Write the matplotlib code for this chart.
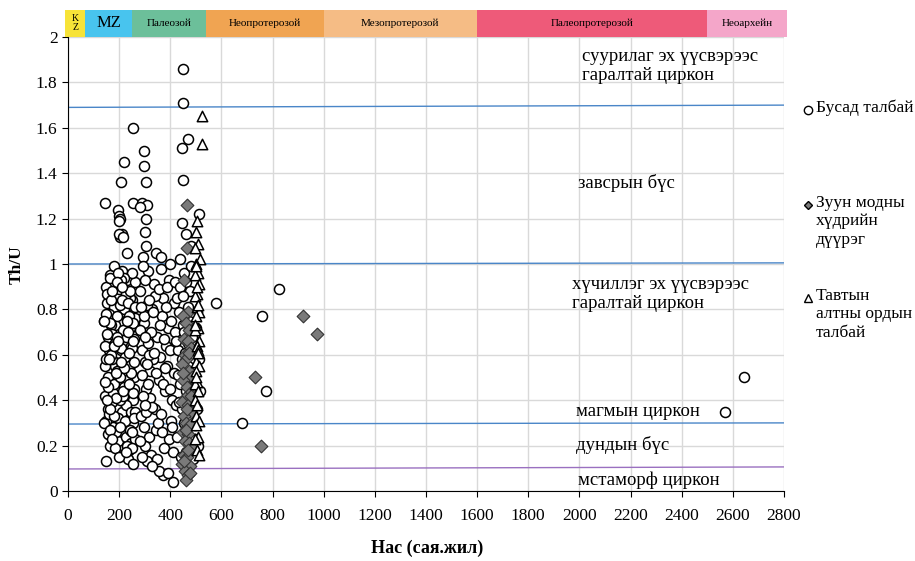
import numpy as np
import matplotlib
matplotlib.use("Agg")
import matplotlib.pyplot as plt
from matplotlib.patches import Rectangle
from matplotlib.lines import Line2D

plt.rcParams['font.family'] = ['Liberation Serif', 'DejaVu Serif']

# --- Бусад талбай (open circles) ---
circ_a_x = [140, 152, 160, 171, 183, 190, 198, 207, 215, 224,
            232, 241, 250, 258, 145, 156, 166, 177, 187, 196,
            205, 213, 222, 230, 239, 247, 256, 263, 148, 158,
            168, 179, 186, 194, 203, 211, 220, 228, 237, 245,
            254, 262, 143, 155, 164, 174, 182, 192, 201, 210,
            218, 226, 235, 243, 252, 260, 150, 162, 172, 181,
            189, 199, 208, 216, 225, 233, 242, 251, 259, 146,
            157, 167, 176, 185, 195, 204, 212, 221, 231, 240,
            248, 257, 141, 153, 163, 173, 184, 193, 202, 209,
            219, 227, 236, 246, 255, 264, 149, 159, 170, 180,
            190, 200, 206, 214, 223, 232, 244, 253, 262, 150,
            165, 195, 200, 205, 210, 230, 253, 145, 198, 205,
            147, 158, 169, 181, 192, 203, 213, 224, 236, 247,
            256, 144, 161, 174, 187, 197, 209, 221, 234, 249,
            151, 166, 179, 191, 202, 216, 229, 238, 250, 261,
            154, 171, 186, 197, 212, 226, 239, 258, 163, 207,
            253, 219, 207, 253, 199, 214, 141]
circ_a_y = [0.75, 0.83, 0.62, 0.91, 0.55, 0.70, 0.48, 0.88, 0.66, 0.79,
            0.58, 0.72, 0.84, 0.50, 0.42, 0.36, 0.95, 0.28, 0.60, 0.86,
            0.33, 0.52, 0.45, 0.93, 0.40, 0.64, 0.30, 0.76, 0.90, 0.25,
            0.47, 0.81, 0.37, 0.22, 0.74, 0.97, 0.29, 0.68, 0.18, 0.56,
            0.40, 0.92, 0.55, 0.68, 0.20, 0.58, 0.73, 0.44, 0.61, 0.35,
            0.80, 0.24, 0.51, 0.85, 0.63, 0.45, 0.31, 0.78, 0.39, 0.99,
            0.26, 0.89, 0.54, 0.71, 0.38, 0.60, 0.27, 0.96, 0.67, 0.64,
            0.50, 0.73, 0.43, 0.65, 0.32, 0.82, 0.16, 0.94, 0.49, 0.77,
            0.21, 0.57, 0.30, 0.87, 0.27, 0.69, 0.19, 0.53, 0.40, 0.62,
            0.46, 0.87, 0.14, 0.35, 0.74, 0.23, 0.58, 0.34, 0.84, 0.47,
            0.68, 0.15, 0.93, 0.42, 0.59, 0.20, 0.88, 0.43, 0.35, 0.13,
            0.94, 1.24, 1.21, 1.20, 1.13, 1.05, 0.12, 1.27, 1.19, 1.12,
            0.78, 0.46, 0.60, 0.33, 0.77, 0.50, 0.84, 0.31, 0.70, 0.52,
            0.66, 0.48, 0.58, 0.88, 0.41, 0.96, 0.63, 0.54, 0.83, 0.26,
            0.69, 0.36, 0.64, 0.92, 0.28, 0.44, 0.75, 0.47, 0.19, 0.81,
            0.40, 0.23, 0.52, 0.66, 0.90, 0.17, 0.61, 0.32, 0.74, 0.57,
            1.60, 1.45, 1.36, 1.27, 1.13, 1.12, 0.75]

circ_b_x = [282, 290, 298, 305, 312, 320, 330, 340, 350, 360,
            370, 380, 392, 402, 412, 285, 294, 302, 309, 317,
            326, 336, 346, 356, 366, 376, 386, 396, 406, 416,
            288, 296, 303, 311, 322, 332, 342, 352, 362, 372,
            383, 394, 404, 414, 424, 280, 292, 300, 307, 315,
            324, 334, 344, 354, 364, 374, 384, 398, 408, 418,
            283, 293, 300, 308, 318, 328, 338, 348, 358, 368,
            378, 388, 400, 410, 420, 286, 298, 305, 313, 345,
            372, 411, 355, 330, 390, 365, 290, 300, 310, 400,
            297, 297, 305, 289, 309, 282, 305, 301]
circ_b_y = [0.88, 0.62, 0.74, 0.45, 0.97, 0.53, 0.80, 0.36, 0.68, 0.59,
            0.85, 0.44, 0.72, 0.31, 0.63, 0.33, 1.03, 0.57, 0.82, 0.24,
            0.70, 0.91, 0.27, 0.49, 0.77, 0.19, 0.55, 0.93, 0.40, 0.83,
            0.51, 0.77, 0.20, 0.65, 0.41, 0.58, 0.86, 0.30, 0.98, 0.47,
            0.64, 0.23, 0.75, 0.52, 0.38, 0.71, 0.42, 0.93, 0.35, 0.60,
            0.16, 0.79, 0.52, 0.89, 0.34, 0.67, 0.81, 0.45, 0.28, 0.70,
            0.22, 0.99, 0.68, 0.13, 0.84, 0.37, 0.61, 0.14, 0.73, 0.26,
            0.54, 0.90, 0.62, 0.17, 0.92, 0.81, 0.28, 1.08, 0.47, 1.05,
            0.07, 0.04, 0.09, 0.11, 0.08, 1.03, 0.15, 0.38, 0.56, 1.00,
            1.50, 1.43, 1.36, 1.27, 1.26, 1.25, 1.20, 1.14]

circ_c_x = [425, 432, 440, 448, 455, 462, 470, 478, 486, 495,
            503, 512, 428, 436, 444, 452, 460, 468, 476, 484,
            492, 500, 508, 430, 438, 446, 454, 462, 470, 490,
            422, 434, 442, 450, 458, 466, 474, 482, 498, 515,
            450, 450, 470, 446, 450, 446, 461, 512, 480, 440]
circ_c_y = [0.85, 0.62, 0.47, 0.73, 0.30, 0.92, 0.55, 0.41, 0.68, 0.23,
            0.36, 0.58, 0.24, 0.79, 0.58, 0.96, 0.17, 0.65, 0.88, 0.32,
            0.49, 0.72, 0.20, 0.51, 0.90, 0.36, 0.70, 0.44, 0.81, 0.14,
            0.66, 0.39, 0.15, 0.86, 0.61, 0.28, 0.75, 0.99, 0.29, 0.44,
            1.86, 1.71, 1.55, 1.51, 1.37, 1.18, 1.13, 1.22, 1.08, 1.02]

circ_out_x = [578, 758, 825, 774, 681, 2570, 2645]
circ_out_y = [0.83, 0.77, 0.89, 0.44, 0.30, 0.35, 0.50]

# --- Зуун модны хүдрийн дүүрэг (grey diamonds) ---
dia_x = [465, 455, 470, 448, 460, 475, 452, 468, 480, 457,
         463, 446, 472, 485, 450, 466, 478, 459, 444, 471,
         482, 454, 462, 476, 449, 468, 458, 473, 486, 452,
         464, 447, 479, 456, 469, 461, 474, 451, 483, 467,
         460, 470, 478, 455, 465, 731, 754, 920, 974]
dia_y = [1.26, 0.93, 0.79, 0.77, 0.74, 0.71, 0.67, 0.66, 0.63, 0.60,
         0.58, 0.56, 0.53, 0.50, 0.49, 0.46, 0.43, 0.41, 0.39, 0.38,
         0.35, 0.33, 0.30, 0.29, 0.26, 0.25, 0.22, 0.21, 0.19, 0.16,
         0.15, 0.12, 0.11, 0.09, 0.07, 0.05, 0.61, 0.52, 0.42, 0.36,
         0.27, 0.18, 0.08, 0.13, 1.07, 0.50, 0.20, 0.77, 0.69]

# --- Тавтын алтны ордын талбай (open triangles) ---
tri_x = [505, 500, 510, 495, 515, 502, 508, 498, 512, 506,
         496, 504, 514, 500, 509, 497, 511, 503, 507, 499,
         513, 501, 505, 495, 510, 498, 506, 502, 512, 500,
         508, 497, 504, 511, 499, 503, 509, 496, 507, 501,
         524, 524]
tri_y = [1.19, 1.14, 1.09, 1.07, 1.02, 1.00, 0.96, 0.95, 0.91, 0.87,
         0.86, 0.81, 0.79, 0.77, 0.72, 0.71, 0.66, 0.64, 0.62, 0.57,
         0.55, 0.53, 0.48, 0.47, 0.44, 0.40, 0.38, 0.33, 0.31, 0.29,
         0.24, 0.23, 0.18, 0.16, 0.99, 0.90, 0.82, 0.73, 0.61, 0.50,
         1.65, 1.53]

# reference lines (start and end Th/U)
ref_lines_y = [(1.69, 1.70), (1.0, 1.005), (0.295, 0.30), (0.097, 0.106)]
ref_colors = ['#4a86c8', '#4a86c8', '#4a86c8', '#9a70c0']

zone_labels = ['суурилаг эх үүсвэрээс\nгаралтай циркон', 'завсрын бүс',
               'хүчиллэг эх үүсвэрээс\nгаралтай циркон', 'магмын циркон',
               'дундын бүс', 'мстаморф циркон']
zone_x = [2010, 1995, 1971, 1987, 1987, 1995]
zone_y = [1.872, 1.357, 0.868, 0.348, 0.203, 0.048]

eras = ['K\nZ', 'MZ', 'Палеозой', 'Неопротерозой', 'Мезопротерозой',
        'Палеопротерозой', 'Неоархейн']
era_start = [-10, 66, 252, 541, 1000, 1600, 2500]
era_end = [66, 252, 541, 1000, 1600, 2500, 2810]
era_colors = ['#f7e338', '#48c4ee', '#6cbf9a', '#f0a452', '#f5bc85',
              '#ee5a79', '#f4a6c9']
era_fsize = [7, 12, 8, 8, 8, 8, 8]

fig = plt.figure(figsize=(9.15, 5.61), dpi=100)
ax = fig.add_axes([0.0743, 0.1248, 0.7825, 0.8092])

ax.set_xlim(0, 2800)
ax.set_ylim(0, 2)
ax.set_xticks(np.arange(0, 2801, 200))
ax.set_yticks(np.arange(0, 2.01, 0.2))
ax.set_yticklabels([f'{v:g}' for v in np.arange(0, 2.01, 0.2).round(1)])
ax.grid(color='#d9d9d9', lw=1)
ax.set_axisbelow(True)
for s in ['top', 'right']:
    ax.spines[s].set_visible(False)
ax.tick_params(direction='out', length=4, labelsize=12.5, color='black')
ax.tick_params(axis='x', pad=8)

for (y0, y1), c in zip(ref_lines_y, ref_colors):
    ax.plot([0, 2800], [y0, y1], color=c, lw=1, zorder=1.5)

cx = circ_a_x + circ_b_x + circ_c_x + circ_out_x
cy = circ_a_y + circ_b_y + circ_c_y + circ_out_y
ax.scatter(cx, cy, s=52, marker='o', facecolor='white', edgecolor='black',
           linewidths=1.1, zorder=3)
ax.scatter(dia_x, dia_y, s=42, marker='D', facecolor='#7a7a7a',
           edgecolor='#333333', linewidths=0.8, zorder=4)
ax.scatter(tri_x, tri_y, s=56, marker='^', facecolor='white',
           edgecolor='black', linewidths=1.1, zorder=5)

for t, x, y in zip(zone_labels, zone_x, zone_y):
    ax.text(x, y, t, fontsize=13.5, ha='left', va='center', linespacing=1.2)

# time scale bar above plot
tr = ax.get_xaxis_transform()
for name, x0, x1, c, fs in zip(eras, era_start, era_end, era_colors, era_fsize):
    ax.add_patch(Rectangle((x0, 1.0), x1 - x0, 0.0595, transform=tr,
                           facecolor=c, edgecolor='none', clip_on=False))
    ax.text((x0 + x1) / 2, 1.03, name, transform=tr, ha='center',
            va='center', fontsize=fs, linespacing=1.0)

# legend (drawn by hand, outside the axes)
leg_items = [('o', 'white', 'Бусад талбай', 110),
             ('D', '#7a7a7a', 'Зуун модны\nхүдрийн\nдүүрэг', 205),
             ('^', 'white', 'Тавтын\nалтны ордын\nталбай', 298)]
for m, fc, lab, py in leg_items:
    yf = 1 - py / 561
    ms = 4.5 if m == 'D' else 6
    fig.add_artist(Line2D([808 / 915], [yf], marker=m, ms=ms, mfc=fc,
                          mec='black', mew=1.0, ls='none'))
    fig.text(816 / 915, yf + 0.018, lab, fontsize=12.5, ha='left', va='top',
             linespacing=1.2)

fig.text(17 / 915, 1 - 265 / 561, 'Th/U', rotation=90, fontsize=12.5,
         fontweight='bold', ha='center', va='center')
fig.text(427 / 915, 1 - 548 / 561, 'Нас (сая.жил)', fontsize=13,
         fontweight='bold', ha='center', va='center')

fig.savefig('out.png', dpi=100)
